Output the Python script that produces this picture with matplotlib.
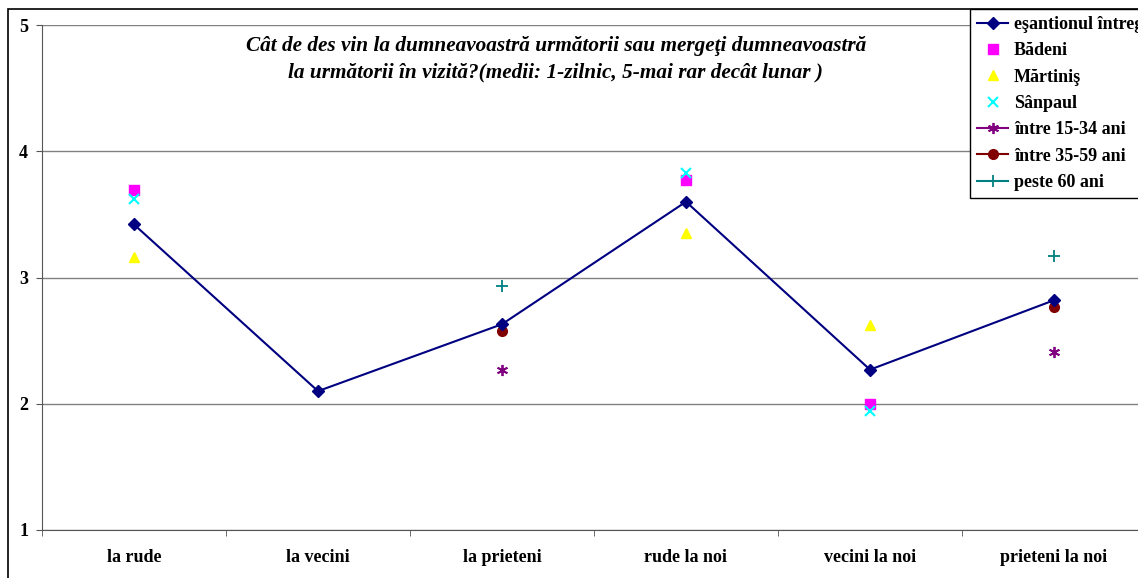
import numpy as np
import matplotlib
matplotlib.use("Agg")
import matplotlib.pyplot as plt
from matplotlib.patches import Rectangle

categories = ["la rude", "la vecini", "la prieteni", "rude la noi", "vecini la noi", "prieteni la noi"]
nan = np.nan
esantion = [3.42, 2.10, 2.63, 3.60, 2.27, 2.82]
badeni = [3.69, nan, nan, 3.77, 2.00, nan]
martinis = [3.16, nan, nan, 3.35, 2.62, nan]
sanpaul = [3.62, nan, nan, 3.83, 1.94, nan]
ani_15_34 = [nan, nan, 2.27, nan, nan, 2.41]
ani_35_59 = [nan, nan, 2.58, nan, nan, 2.77]
peste_60 = [nan, nan, 2.93, nan, nan, 3.17]

title = ("Cât de des vin la dumneavoastră următorii sau mergeţi dumneavoastră\n"
         "la următorii în vizită?(medii: 1-zilnic, 5-mai rar decât lunar )")

W, H = 1138, 578
fig = plt.figure(figsize=(W / 100, H / 100), dpi=100)
serif = ["Liberation Serif", "DejaVu Serif"]

# outer chart frame (partially cropped)
fig.patches.append(Rectangle((8 / W, -0.2), 1.2, 1.2 - 9 / H, transform=fig.transFigure,
                             fill=False, edgecolor="black", linewidth=1.2, clip_on=False))

ax = fig.add_axes([42 / W, (H - 530) / H, (1146 - 42) / W, (530 - 25) / H])
x = np.arange(len(categories))

ax.plot(x, esantion, color="#000080", marker="D", markersize=6, linewidth=1.5,
        label="eşantionul întreg", zorder=5)
ax.plot(x, badeni, linestyle="none", marker="s", color="#FF00FF", markersize=7, label="Bădeni")
ax.plot(x, martinis, linestyle="none", marker="^", color="#FFFF00", markersize=7, label="Mărtiniş")
ax.plot(x, sanpaul, linestyle="none", marker="x", color="#00FFFF", markersize=7,
        markeredgewidth=1.5, label="Sânpaul")
ax.plot(x, ani_15_34, linestyle="-", color="#800080", marker=(6, 2, 0), markersize=8,
        markeredgewidth=1.3, label="între 15-34 ani")
ax.plot(x, ani_35_59, linestyle="-", color="#800000", marker="o", markersize=7, label="între 35-59 ani")
ax.plot(x, peste_60, linestyle="-", color="#008080", marker="+", markersize=8,
        markeredgewidth=1.3, label="peste 60 ani")

ax.set_xlim(-0.5, len(categories) - 0.5)
ax.set_ylim(1, 5)
ax.set_yticks([1, 2, 3, 4, 5])
ax.set_yticklabels(["1", "2", "3", "4", "5"], fontfamily=serif, fontweight="bold", fontsize=13)
ax.set_xticks(x)
ax.set_xticklabels(categories, fontfamily=serif, fontweight="bold", fontsize=13)
ax.tick_params(axis="x", which="major", length=0, pad=14)
ax.set_xticks(np.arange(-0.5, len(categories), 1), minor=True)
ax.tick_params(axis="x", which="minor", length=4, direction="out", color="#555555")
ax.tick_params(axis="y", length=4, direction="out", pad=6, color="#555555")

ax.grid(axis="y", color="#808080", linewidth=1)
ax.set_axisbelow(True)
for s in ["top", "right"]:
    ax.spines[s].set_visible(False)
ax.spines["left"].set_color("#555555")
ax.spines["bottom"].set_color("#555555")

ax.text(556 / W, 1 - 59 / H, title, transform=fig.transFigure, ha="center", va="center",
        fontfamily=serif, fontweight="bold", fontstyle="italic", fontsize=15.3, linespacing=1.42)

leg = fig.legend(loc="upper left", bbox_to_anchor=(970 / W, 1 - 9 / H),
                 prop={"family": serif, "weight": "bold", "size": 13},
                 frameon=True, fancybox=False, edgecolor="black", framealpha=1,
                 borderpad=0.38, labelspacing=0.52, handlelength=1.75, handletextpad=0.3,
                 borderaxespad=0)
leg.get_frame().set_linewidth(1.0)

fig.savefig("out.png", dpi=100)
